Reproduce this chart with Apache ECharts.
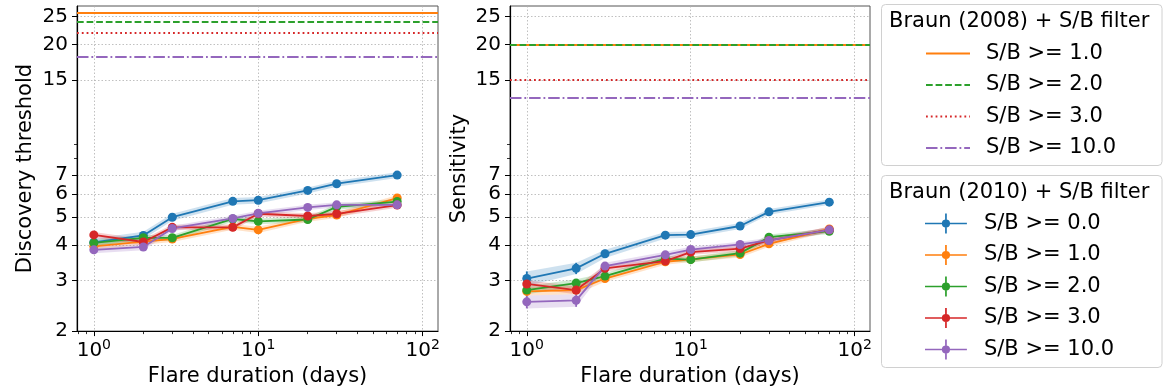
<!DOCTYPE html>
<html><head><meta charset="utf-8">
<script src="https://cdn.jsdelivr.net/npm/echarts@6/dist/echarts.min.js"></script>
<style>html,body{margin:0;padding:0;background:#fff}#c{width:1169px;height:392px}</style>
</head><body><div id="c"></div>
<script>
// ---------------- data ----------------
const durations = [1, 2, 3, 7, 10, 20, 30, 70];
const sbLabels2010 = ['S/B >= 0.0', 'S/B >= 1.0', 'S/B >= 2.0', 'S/B >= 3.0', 'S/B >= 10.0'];
const sbLabels2008 = ['S/B >= 1.0', 'S/B >= 2.0', 'S/B >= 3.0', 'S/B >= 10.0'];

// Discovery threshold (left panel), Braun (2010) + S/B filter
const discSB0  = [4.08, 4.31, 4.99, 5.67, 5.72, 6.19, 6.53, 7.00];
const discSB1  = [3.95, 4.10, 4.19, 4.62, 4.51, 4.92, 5.08, 5.82];
const discSB2  = [4.06, 4.23, 4.23, 4.92, 4.83, 4.90, 5.42, 5.66];
const discSB3  = [4.33, 4.09, 4.60, 4.60, 5.13, 5.04, 5.13, 5.50];
const discSB10 = [3.84, 3.93, 4.56, 4.94, 5.15, 5.40, 5.51, 5.51];
const discErr0  = [0.13, 0.13, 0.14, 0.15, 0.15, 0.15, 0.16, 0.16];
const discErr1  = [0.10, 0.10, 0.10, 0.11, 0.11, 0.11, 0.12, 0.13];
const discErr2  = [0.10, 0.10, 0.10, 0.11, 0.11, 0.11, 0.12, 0.12];
const discErr3  = [0.10, 0.10, 0.10, 0.11, 0.11, 0.11, 0.12, 0.12];
const discErr10 = [0.10, 0.10, 0.10, 0.11, 0.11, 0.11, 0.12, 0.12];

// Sensitivity (right panel), Braun (2010) + S/B filter
const sensSB0  = [3.05, 3.31, 3.72, 4.32, 4.34, 4.65, 5.21, 5.63];
const sensSB1  = [2.75, 2.78, 3.05, 3.49, 3.56, 3.70, 4.03, 4.54];
const sensSB2  = [2.78, 2.94, 3.11, 3.58, 3.55, 3.74, 4.25, 4.46];
const sensSB3  = [2.92, 2.78, 3.31, 3.51, 3.77, 3.88, 4.14, 4.51];
const sensSB10 = [2.53, 2.56, 3.37, 3.69, 3.85, 4.01, 4.14, 4.51];
const sensErr0  = [0.18, 0.15, 0.12, 0.11, 0.11, 0.11, 0.12, 0.12];
const sensErr1  = [0.09, 0.09, 0.08, 0.08, 0.08, 0.09, 0.09, 0.10];
const sensErr2  = [0.09, 0.09, 0.08, 0.08, 0.08, 0.09, 0.09, 0.10];
const sensErr3  = [0.09, 0.09, 0.08, 0.08, 0.08, 0.09, 0.09, 0.10];
const sensErr10 = [0.13, 0.13, 0.09, 0.09, 0.09, 0.09, 0.09, 0.10];

// Braun (2008) + S/B filter reference levels
const braun2008Disc = [25.7, 24.0, 22.0, 18.1];
const braun2008Sens = [20.0, 20.0, 15.1, 13.05];

// axes / ticks
const xTickValues = [1, 10, 100];
const xMinorTickValues = [0.8, 0.9, 2, 3, 4, 5, 6, 7, 8, 9, 20, 30, 40, 50, 60, 70, 80, 90];
const yTickValues = [2, 3, 4, 5, 6, 7, 15, 20, 25];
const yMinorTickValues = [8, 9];
const xRange = [0.79, 124];
const yRange = [2, 27.2];

// ---------------- styles ----------------
const FONT = 'DejaVu Sans';
const colors2010 = ['#1f77b4', '#ff7f0e', '#2ca02c', '#d62728', '#9467bd'];
const colors2008 = ['#ff7f0e', '#2ca02c', '#d62728', '#9467bd'];
const dash2008 = ['solid', [6.7, 2.9], [1.8, 3], [11.5, 2.9, 1.8, 2.9]];
const LW = 1.8;

const panels = [
  { name: 'Discovery threshold', vals: [discSB0, discSB1, discSB2, discSB3, discSB10],
    errs: [discErr0, discErr1, discErr2, discErr3, discErr10], b08: braun2008Disc,
    grid: { left: 77, top: 6, width: 361, height: 329 } },
  { name: 'Sensitivity', vals: [sensSB0, sensSB1, sensSB2, sensSB3, sensSB10],
    errs: [sensErr0, sensErr1, sensErr2, sensErr3, sensErr10], b08: braun2008Sens,
    grid: { left: 510, top: 6, width: 360, height: 329 } }
];

const grids = [], xAxes = [], yAxes = [], series = [];

panels.forEach((pn, p) => {
  grids.push(Object.assign({ show: true, borderColor: '#555', borderWidth: 1, backgroundColor: '#fff' }, pn.grid));
  xAxes.push({
    type: 'log', logBase: 10, gridIndex: p, min: xRange[0], max: xRange[1],
    name: 'Flare duration (days)', nameLocation: 'middle', nameGap: 34,
    nameTextStyle: { fontFamily: FONT, fontSize: 21, color: '#000' },
    axisLine: { show: true, onZero: false, lineStyle: { color: '#000', width: 1.2 } },
    axisTick: { show: true, inside: false, length: 5, customValues: xTickValues, lineStyle: { color: '#000', width: 1 } },
    axisLabel: {
      show: true, customValues: xTickValues, margin: 7, fontFamily: FONT, fontSize: 20, color: '#000',
      formatter: v => '{b|10}{s|' + Math.round(Math.log10(v)) + '}',
      rich: {
        b: { fontFamily: FONT, fontSize: 20, lineHeight: 26, color: '#000' },
        s: { fontFamily: FONT, fontSize: 14, lineHeight: 12, verticalAlign: 'top', color: '#000' }
      }
    },
    splitLine: { show: true, lineStyle: { color: '#b0b0b0', type: [1.5, 2], width: 0.8 } }
  });
  xAxes.push({
    type: 'log', logBase: 10, gridIndex: p, min: xRange[0], max: xRange[1], position: 'bottom',
    axisLine: { show: false, onZero: false },
    axisTick: { show: true, length: 3, customValues: xMinorTickValues, lineStyle: { color: '#000', width: 0.8 } },
    axisLabel: { show: false }, splitLine: { show: false }
  });
  yAxes.push({
    type: 'log', logBase: 10, gridIndex: p, min: yRange[0], max: yRange[1],
    name: pn.name, nameLocation: 'middle', nameGap: p === 0 ? 41 : 40, nameRotate: 90,
    nameTextStyle: { fontFamily: FONT, fontSize: 21, color: '#000' },
    axisLine: { show: true, onZero: false, lineStyle: { color: '#000', width: 1.2 } },
    axisTick: { show: true, length: 5, customValues: yTickValues, lineStyle: { color: '#000', width: 1 } },
    axisLabel: { show: true, customValues: yTickValues, margin: 9, fontFamily: FONT, fontSize: 20, color: '#000',
      formatter: v => String(Math.round(v)) },
    splitLine: { show: true, lineStyle: { color: '#b0b0b0', type: [1.5, 2], width: 0.8 } }
  });
  yAxes.push({
    type: 'log', logBase: 10, gridIndex: p, min: yRange[0], max: yRange[1], position: 'left',
    axisLine: { show: false, onZero: false },
    axisTick: { show: true, length: 3, customValues: yMinorTickValues, lineStyle: { color: '#000', width: 0.8 } },
    axisLabel: { show: false }, splitLine: { show: false }
  });

  const xi = 2 * p, yi = 2 * p;

  pn.b08.forEach((lvl, k) => {
    series.push({
      type: 'line', name: (p === 0 ? '2008|' : 'r2008|') + sbLabels2008[k],
      xAxisIndex: xi, yAxisIndex: yi, data: [], symbol: 'none', animation: false,
      color: colors2008[k],
      lineStyle: { color: colors2008[k], type: dash2008[k], width: LW },
      itemStyle: { color: colors2008[k] },
      z: 2,
      markLine: {
        silent: true, symbol: 'none', animation: false, label: { show: false },
        lineStyle: { color: colors2008[k], type: dash2008[k], width: LW },
        emphasis: { disabled: true },
        data: [{ yAxis: lvl }]
      }
    });
  });

  pn.vals.forEach((v, k) => {
    const e = pn.errs[k];
    const col = colors2010[k];
    const rows = durations.map((d, i) => [d, v[i] - e[i], v[i] + e[i]]);
    series.push({
      type: 'custom', name: 'band' + p + k, xAxisIndex: xi, yAxisIndex: yi, data: rows,
      silent: true, animation: false, z: 3,
      encode: { x: 0, y: [1, 2] },
      renderItem: (params, api) => {
        const children = [];
        if (params.dataIndex === 0) {
          const up = [], lo = [];
          for (let i = 0; i < rows.length; i++) {
            up.push(api.coord([api.value(0, i), api.value(2, i)]));
            lo.push(api.coord([api.value(0, i), api.value(1, i)]));
          }
          children.push({ type: 'polygon', shape: { points: up.concat(lo.reverse()) },
            style: { fill: col, opacity: 0.22 }, silent: true });
        }
        const a = api.coord([api.value(0), api.value(1)]);
        const b = api.coord([api.value(0), api.value(2)]);
        children.push({ type: 'line', shape: { x1: a[0], y1: a[1], x2: b[0], y2: b[1] },
          style: { stroke: col, lineWidth: LW }, silent: true });
        return { type: 'group', children };
      }
    });
    series.push({
      type: 'line', name: (p === 0 ? '2010|' : 'r2010|') + sbLabels2010[k],
      xAxisIndex: xi, yAxisIndex: yi, animation: false,
      data: durations.map((d, i) => [d, v[i]]),
      symbol: 'circle', symbolSize: 9, showSymbol: true,
      color: col,
      lineStyle: { color: col, width: LW },
      itemStyle: { color: col, borderWidth: 0 },
      emphasis: { disabled: true },
      z: 4
    });
  });
});

const errIcon = 'path://M0,9.6H44V11.4H0Z M21.1,0H22.9V21H21.1Z M26.3,10.5A4.3,4.3 0 1 1 17.7,10.5A4.3,4.3 0 1 1 26.3,10.5Z';

const legendCommon = {
  orient: 'vertical', left: 925, itemWidth: 44, itemHeight: 20, itemGap: 10.5,
  selectedMode: false, padding: 0,
  formatter: n => '{t|' + n.split('|')[1] + '}',
  textStyle: { fontFamily: FONT, fontSize: 21, color: '#000',
    rich: { t: { fontFamily: FONT, fontSize: 21, color: '#000', padding: [0, 0, 0, 11] } } }
};

const option = {
  backgroundColor: '#fff',
  animation: false,
  grid: grids,
  xAxis: xAxes,
  yAxis: yAxes,
  series: series,
  legend: [
    Object.assign({}, legendCommon, { top: 43,
      data: sbLabels2008.map(l => ({ name: '2008|' + l,
        itemStyle: { color: 'rgba(0,0,0,0)', opacity: 0, borderWidth: 0 } })) }),
    Object.assign({}, legendCommon, { top: 213,
      data: sbLabels2010.map(l => ({ name: '2010|' + l, icon: errIcon, itemStyle: { borderWidth: 0 } })) })
  ],
  graphic: [
    { type: 'rect', z: -1, shape: { x: 881.5, y: 4.5, width: 280.5, height: 161, r: 4 },
      style: { fill: '#fff', stroke: '#d0d0d0', lineWidth: 1 } },
    { type: 'rect', z: -1, shape: { x: 881.5, y: 175.5, width: 280.5, height: 192, r: 4 },
      style: { fill: '#fff', stroke: '#d0d0d0', lineWidth: 1 } },
    { type: 'text', left: 889, top: 11, style: { text: 'Braun (2008) + S/B filter', fontFamily: FONT, fontSize: 21, fill: '#000' } },
    { type: 'text', left: 889, top: 182, style: { text: 'Braun (2010) + S/B filter', fontFamily: FONT, fontSize: 21, fill: '#000' } }
  ]
};

const chart = echarts.init(document.getElementById('c'), null, { renderer: 'canvas' });
chart.setOption(option);
</script>
</body></html>
